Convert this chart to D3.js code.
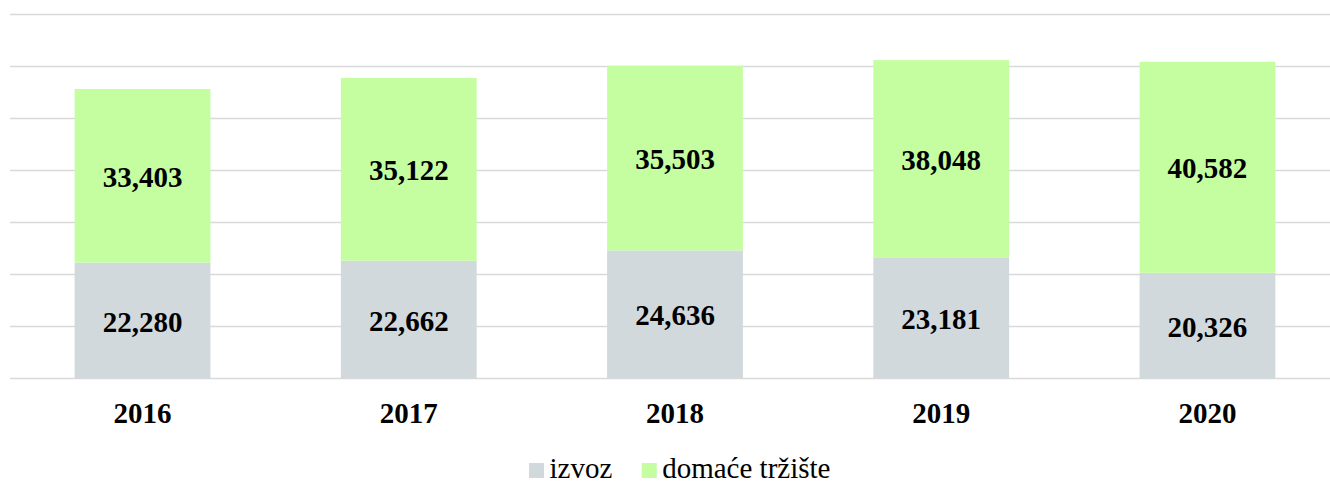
<!DOCTYPE html>
<html>
<head>
<meta charset="utf-8">
<script src="https://cdn.jsdelivr.net/npm/d3@7"></script>
<style>
  html, body { margin: 0; padding: 0; background: #fff; }
  svg { display: block; }
  svg text { font-family: "Liberation Serif", "Times New Roman", serif; }
</style>
</head>
<body>
<svg id="chart" width="1330" height="481"></svg>
<script>
const years = ["2016", "2017", "2018", "2019", "2020"];
const izvoz = [22280, 22662, 24636, 23181, 20326];
const domace = [33403, 35122, 35503, 38048, 40582];
const seriesNames = ["izvoz", "domaće tržište"];
const seriesColors = ["#D2D9DC", "#C4FEA1"];
const yTicks = [0, 10000, 20000, 30000, 40000, 50000, 60000, 70000];

const serif = '"Liberation Serif", "Times New Roman", serif';
const svg = d3.select("#chart");
const x = d3.scaleBand().domain(years).range([9.4, 1340.6]).paddingInner(0.49).paddingOuter(0.245);
const y = d3.scaleLinear().domain([0, 70000]).range([378.5, 14.5]);

// gridlines
svg.append("g").selectAll("line").data(yTicks).join("line")
  .attr("x1", 10).attr("x2", 1330)
  .attr("y1", d => y(d)).attr("y2", d => y(d))
  .attr("stroke", "#D9D9D9").attr("stroke-width", 1.6);

const rows = years.map((yr, i) => ({ year: yr, izvoz: izvoz[i], domace: domace[i] }));
const stack = d3.stack().keys(["izvoz", "domace"])(rows);

const fmt = d3.format(",");
stack.forEach((layer, li) => {
  const g = svg.append("g");
  g.selectAll("rect").data(layer).join("rect")
    .attr("x", d => x(d.data.year))
    .attr("width", x.bandwidth())
    .attr("y", d => y(d[1]))
    .attr("height", d => y(d[0]) - y(d[1]))
    .attr("fill", seriesColors[li]);
  g.selectAll("text").data(layer).join("text")
    .attr("x", d => x(d.data.year) + x.bandwidth() / 2)
    .attr("y", d => (y(d[0]) + y(d[1])) / 2 + 11)
    .attr("text-anchor", "middle")
    .attr("font-family", serif)
    .attr("font-size", 29).attr("font-weight", "bold").attr("fill", "#000")
    .text(d => fmt(d[1] - d[0]));
});

// x axis labels
const xAxis = d3.axisBottom(x).tickSize(0).tickPadding(0);
const ax = svg.append("g").attr("transform", "translate(0,378.5)").call(xAxis)
  .attr("font-family", serif);
ax.select(".domain").remove();
ax.selectAll("text")
  .attr("y", 44.5).attr("dy", null)
  .attr("font-size", 29).attr("font-weight", "bold").attr("fill", "#000")
  .attr("font-family", serif);

// legend
const legendX = [529, 641.7];
const lg = svg.append("g").attr("font-family", serif);
seriesNames.forEach((name, i) => {
  lg.append("rect").attr("x", legendX[i]).attr("y", 463).attr("width", 15).attr("height", 15)
    .attr("fill", seriesColors[i]);
  lg.append("text").attr("x", legendX[i] + 20.5).attr("y", 477.5)
    .attr("font-family", serif)
    .attr("font-size", 29).attr("fill", "#000").text(name);
});
</script>
</body>
</html>
